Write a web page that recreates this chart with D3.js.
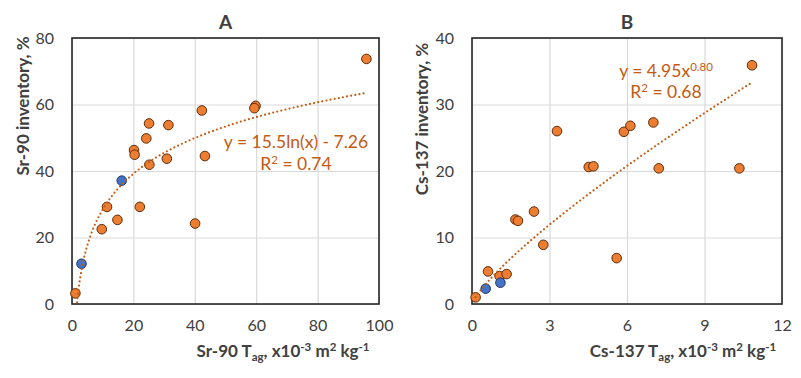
<!DOCTYPE html>
<html>
<head>
<meta charset="utf-8">
<script src="https://cdn.jsdelivr.net/npm/d3@7"></script>
<style>
  html, body { margin: 0; padding: 0; background: #fff; }
  svg { display: block; }
  text { font-family: Lato, "Open Sans", sans-serif; fill: #404040; }
</style>
</head>
<body>
<svg id="chart" width="801" height="378"></svg>
<script>
// ---------- Data ----------
// Panel A: Sr-90
const srOrangeX = [1.1, 9.7, 11.4, 14.8, 22.1, 20.2, 20.4, 24.2, 25.1, 25.2, 31.4, 30.9, 40.1, 42.3, 43.3, 59.8, 59.4, 95.9];
const srOrangeY = [3.2, 22.5, 29.2, 25.3, 29.2, 46.3, 44.9, 49.8, 54.3, 41.9, 53.8, 43.7, 24.2, 58.2, 44.5, 59.6, 58.9, 73.7];
const srBlueX = [3.1, 16.2];
const srBlueY = [12.1, 37.1];
const srTicksX = [0, 20, 40, 60, 80, 100];
const srTicksY = [0, 20, 40, 60, 80];
const srFit = { a: 15.5, b: -7.26, r2: "0.74" };   // y = a ln(x) + b

// Panel B: Cs-137
const csOrangeX = [0.14, 0.62, 1.07, 1.34, 1.68, 1.78, 2.40, 2.76, 3.29, 4.52, 4.70, 5.60, 5.88, 6.13, 7.02, 7.23, 10.35, 10.84];
const csOrangeY = [1.0, 4.9, 4.2, 4.5, 12.7, 12.5, 13.9, 8.9, 26.0, 20.6, 20.7, 6.9, 25.9, 26.8, 27.3, 20.4, 20.4, 35.9];
const csBlueX = [0.53, 1.10];
const csBlueY = [2.3, 3.2];
const csTicksX = [0, 3, 6, 9, 12];
const csTicksY = [0, 10, 20, 30, 40];
const csFit = { a: 4.95, b: 0.80, r2: "0.68" };     // y = a x^b

// ---------- Styles ----------
const ORANGE = "#ED7D31", ORANGE_STROKE = "#5e2c0a";
const BLUE = "#4472C4", BLUE_STROKE = "#1f3864";
const FIT = "#C55A11";
const GRID = "#d9d9d9";
const TICK_FS = "16px", TITLE_FS = "17px", EQ_FS = "17.5px";

const svg = d3.select("#chart");

function panel(cfg) {
  const x = d3.scaleLinear().domain(cfg.xDomain).range([cfg.left, cfg.right]);
  const y = d3.scaleLinear().domain(cfg.yDomain).range([cfg.bottom, cfg.top]);
  const g = svg.append("g");
  const w = cfg.right - cfg.left, h = cfg.bottom - cfg.top;

  // gridlines
  g.append("g").attr("transform", `translate(0,${cfg.bottom})`)
    .call(d3.axisBottom(x).tickValues(cfg.ticksX).tickSize(-h).tickFormat(""))
    .call(a => a.select(".domain").remove())
    .call(a => a.selectAll("line").attr("stroke", GRID).attr("stroke-width", 1.2));
  g.append("g").attr("transform", `translate(${cfg.left},0)`)
    .call(d3.axisLeft(y).tickValues(cfg.ticksY).tickSize(-w).tickFormat(""))
    .call(a => a.select(".domain").remove())
    .call(a => a.selectAll("line").attr("stroke", GRID).attr("stroke-width", 1.2));

  // tick labels
  g.append("g").attr("transform", `translate(0,${cfg.bottom})`)
    .call(d3.axisBottom(x).tickValues(cfg.ticksX).tickSize(0).tickPadding(16))
    .call(a => a.select(".domain").remove())
    .call(a => a.selectAll("text").style("font-size", TICK_FS).attr("fill", "#404040").style("font-family", "Lato"));
  g.append("g").attr("transform", `translate(${cfg.left},0)`)
    .call(d3.axisLeft(y).tickValues(cfg.ticksY).tickSize(0).tickPadding(18))
    .call(a => a.select(".domain").remove())
    .call(a => a.selectAll("text").style("font-size", TICK_FS).attr("fill", "#404040").style("font-family", "Lato"));

  // frame
  g.append("rect").attr("x", cfg.left).attr("y", cfg.top).attr("width", w).attr("height", h)
    .attr("fill", "none").attr("stroke", "#262626").attr("stroke-width", 1.6);

  // clip
  const clipId = "clip" + cfg.id;
  svg.append("clipPath").attr("id", clipId).append("rect")
    .attr("x", cfg.left).attr("y", cfg.top).attr("width", w).attr("height", h);

  // points
  const orange = cfg.ox.map((v, i) => [v, cfg.oy[i]]);
  const blue = cfg.bx.map((v, i) => [v, cfg.by[i]]);
  g.append("g").selectAll("circle").data(orange).join("circle")
    .attr("cx", d => x(d[0])).attr("cy", d => y(d[1])).attr("r", 4.8)
    .attr("fill", ORANGE).attr("stroke", ORANGE_STROKE).attr("stroke-width", 1);
  g.append("g").selectAll("circle").data(blue).join("circle")
    .attr("cx", d => x(d[0])).attr("cy", d => y(d[1])).attr("r", 4.8)
    .attr("fill", BLUE).attr("stroke", BLUE_STROKE).attr("stroke-width", 1);

  // trendline
  const all = cfg.ox.concat(cfg.bx);
  const x0 = d3.min(all), x1 = d3.max(all);
  const n = 200;
  const pts = d3.range(n + 1).map(i => {
    const xv = x0 + (x1 - x0) * i / n;
    return [xv, cfg.fit(xv)];
  });
  g.append("path").attr("clip-path", `url(#${clipId})`)
    .attr("d", d3.line().x(d => x(d[0])).y(d => y(d[1]))(pts))
    .attr("fill", "none").attr("stroke", FIT).attr("stroke-width", 2.2)
    .attr("stroke-linecap", "round").attr("stroke-dasharray", "0,4.2");

  // title
  g.append("text").attr("x", (cfg.left + cfg.right) / 2).attr("y", 29)
    .attr("text-anchor", "middle").style("font-size", "19px").style("font-weight", "bold")
    .attr("fill", "#000").text(cfg.title);

  return { x, y, g };
}

const A = panel({
  id: "A", title: "A", left: 72, right: 379, top: 38, bottom: 304,
  xDomain: [0, 100], yDomain: [0, 80], ticksX: srTicksX, ticksY: srTicksY,
  ox: srOrangeX, oy: srOrangeY, bx: srBlueX, by: srBlueY,
  fit: v => srFit.a * Math.log(v) + srFit.b
});
const B = panel({
  id: "B", title: "B", left: 472, right: 782, top: 38, bottom: 304,
  xDomain: [0, 12], yDomain: [0, 40], ticksX: csTicksX, ticksY: csTicksY,
  ox: csOrangeX, oy: csOrangeY, bx: csBlueX, by: csBlueY,
  fit: v => csFit.a * Math.pow(v, csFit.b)
});

// equations
function eqText(x, y, parts) {
  const t = svg.append("text").attr("x", x).attr("y", y).attr("text-anchor", "middle")
    .style("font-size", EQ_FS).attr("fill", FIT).style("fill", FIT);
  parts.forEach(p => {
    const s = t.append("tspan").text(p.t);
    if (p.sup) s.attr("baseline-shift", "super").style("font-size", "11.5px");
  });
  return t;
}
eqText(296, 148, [{ t: "y = " + srFit.a + "ln(x) - " + Math.abs(srFit.b) }]);
eqText(296, 170, [{ t: "R" }, { t: "2", sup: true }, { t: " = " + srFit.r2 }]);
eqText(666, 77, [{ t: "y = " + csFit.a + "x" }, { t: csFit.b.toFixed(2), sup: true }]);
eqText(666, 97.5, [{ t: "R" }, { t: "2", sup: true }, { t: " = " + csFit.r2 }]);

// axis titles
function xTitle(cx, y, label) {
  const t = svg.append("text").attr("x", cx).attr("y", y).attr("text-anchor", "middle")
    .style("font-size", TITLE_FS).style("font-weight", "bold").attr("fill", "#333");
  t.append("tspan").text(label + " T");
  t.append("tspan").text("ag").attr("dy", 4).style("font-size", "11.5px");
  t.append("tspan").text(", x10").attr("dy", -4);
  t.append("tspan").text("-3").attr("dy", -6).style("font-size", "11.5px");
  t.append("tspan").text(" m").attr("dy", 6);
  t.append("tspan").text("2").attr("dy", -6).style("font-size", "11.5px");
  t.append("tspan").text(" kg").attr("dy", 6);
  t.append("tspan").text("-1").attr("dy", -6).style("font-size", "11.5px");
}
xTitle(283, 357, "Sr-90");
xTitle(683, 357, "Cs-137");

function yTitle(cx, cy, label) {
  svg.append("text").attr("transform", `translate(${cx},${cy}) rotate(-90)`)
    .attr("text-anchor", "middle").style("font-size", TITLE_FS).style("font-weight", "bold")
    .attr("fill", "#333").text(label);
}
yTitle(29, 106, "Sr-90 inventory, %");
yTitle(428, 119, "Cs-137 inventory, %");
</script>
</body>
</html>
